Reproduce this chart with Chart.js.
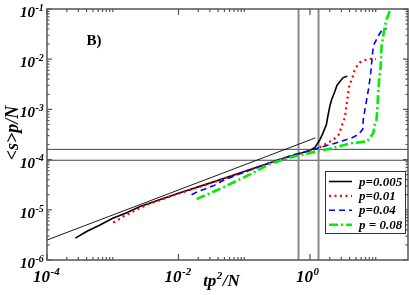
<!DOCTYPE html>
<html lang="en">
<head>
<meta charset="UTF-8">
<title>B) mean cluster size vs tp^2/N</title>
<script src="https://cdn.jsdelivr.net/npm/chart.js"></script>
<style>
  body { margin: 0; background: #fff; }
  canvas { display: block; }
</style>
</head>
<body>
<canvas id="myChart" width="409" height="295"></canvas>
<script>
// values
const blackX = [2.7e-4, 4.0e-4, 6.4e-4, 1.0e-3, 1.6e-3, 2.6e-3, 1.0e-2, 3.0e-2, 0.1, 0.35, 0.7, 1.0, 1.19, 1.42, 1.58, 1.78, 1.87, 2.01, 2.14, 2.4, 2.57, 2.86, 3.2, 3.7];
const blackY = [2.72e-6, 3.7e-6, 5.0e-6, 6.8e-6, 8.6e-6, 1.16e-5, 2.14e-5, 3.4e-5, 5.8e-5, 1.0e-4, 1.32e-4, 1.52e-4, 1.75e-4, 2.5e-4, 3.4e-4, 5.0e-4, 7.3e-4, 1.17e-3, 1.58e-3, 2.3e-3, 3.0e-3, 3.6e-3, 4.3e-3, 4.6e-3];

const redX = [1.02e-3, 1.25e-3, 1.5e-3, 1.9e-3, 2.3e-3, 3.5e-3, 1.0e-2, 3.0e-2, 0.1, 0.3, 0.6, 1.12, 1.42, 1.8, 2.27, 2.77, 3.03, 3.4, 3.53, 3.7, 3.85, 4.0, 4.4, 4.6, 5.2, 5.75, 6.9, 8.1, 10.1];
const redY = [5.6e-6, 6.5e-6, 7.6e-6, 8.8e-6, 1.0e-5, 1.3e-5, 2.1e-5, 3.35e-5, 5.7e-5, 9.4e-5, 1.25e-4, 1.58e-4, 1.77e-4, 2.1e-4, 2.5e-4, 3.2e-4, 4.6e-4, 6.9e-4, 1.0e-3, 1.56e-3, 2.3e-3, 3.2e-3, 4.0e-3, 5.4e-3, 7.3e-3, 8.6e-3, 9.6e-3, 1.02e-2, 1.0e-2];

const blueX = [1.58e-2, 2.0e-2, 2.53e-2, 3.4e-2, 4.5e-2, 7e-2, 0.1, 0.3, 0.6, 1.0, 1.42, 2.55, 4.3, 5.43, 6.34, 6.47, 6.87, 7.45, 7.9, 8.4, 8.7, 9.2, 10.9, 12.3, 14.7];
const blueY = [2.0e-5, 2.32e-5, 2.6e-5, 3.0e-5, 3.7e-5, 4.7e-5, 5.6e-5, 9.5e-5, 1.28e-4, 1.5e-4, 1.75e-4, 2.16e-4, 2.7e-4, 3.16e-4, 4.0e-4, 6.3e-4, 1.0e-3, 1.85e-3, 2.9e-3, 5.4e-3, 8.6e-3, 1.85e-2, 2.9e-2, 3.7e-2, 4.1e-2];

const greenX = [1.89e-2, 4.8e-2, 0.12, 0.25, 0.5, 1.0, 2.0, 4.06, 7.3, 8.2, 9.2, 9.75, 10.3, 10.6, 10.9, 11.3, 11.9, 12.3, 13.0, 13.8, 14.7, 16.1, 16.8];
const greenY = [1.64e-5, 2.8e-5, 5.0e-5, 8.3e-5, 1.1e-4, 1.36e-4, 1.64e-4, 2.1e-4, 2.3e-4, 2.7e-4, 3.4e-4, 5.4e-4, 6.3e-4, 1.0e-3, 2.16e-3, 4.0e-3, 7.3e-3, 1.85e-2, 2.9e-2, 4.6e-2, 6.3e-2, 8.6e-2, 0.1];

// thin power-law guide, vertical and horizontal marker lines
const refX = [1e-4, 1.2];
const refY = [2.5e-6, 2.7e-4];
const vLinesX = [0.67, 1.35];
const hLinesY = [1.6e-4, 0.97e-4];

const seriesLabels = ['p=0.005', 'p=0.01', 'p=0.04', 'p = 0.08'];
const xMajor = [1e-4, 1e-2, 1];
const xExp = ['-4', '-2', '0'];
const yMajor = [1e-6, 1e-5, 1e-4, 1e-3, 1e-2, 1e-1];
const yExp = ['-6', '-5', '-4', '-3', '-2', '-1'];

const X_MIN = 1e-4, X_MAX = 31, Y_MIN = 1e-6, Y_MAX = 1e-1;

function pts(xs, ys) {
    return xs.map((x, i) => ({ x: x, y: ys[i] }));
}

const datasets = [
    { label: seriesLabels[0], data: pts(blackX, blackY), borderColor: '#000', borderWidth: 1.6 },
    { label: seriesLabels[1], data: pts(redX, redY), borderColor: '#ff0000', borderWidth: 2.2, borderDash: [2, 3.5] },
    { label: seriesLabels[2], data: pts(blueX, blueY), borderColor: '#0000ff', borderWidth: 1.6, borderDash: [6, 4] },
    { label: seriesLabels[3], data: pts(greenX, greenY), borderColor: '#00ee00', borderWidth: 2.6, borderDash: [9, 3, 2, 3] },
    { label: 'ref', data: pts(refX, refY), borderColor: '#000', borderWidth: 0.9 }
];
vLinesX.forEach(v => datasets.push({ label: 'v', data: [{ x: v, y: Y_MIN }, { x: v, y: Y_MAX }], borderColor: '#8a8a8a', borderWidth: 2 }));
hLinesY.forEach(h => datasets.push({ label: 'h', data: [{ x: X_MIN, y: h }, { x: X_MAX, y: h }], borderColor: '#444', borderWidth: 1 }));
datasets.forEach((d, i) => {
    d.showLine = true;
    d.pointRadius = 0;
    d.fill = false;
    d.tension = 0;
    d.order = i < 4 ? 4 - i : 10;
});

function supText(ctx, base, exp, x, y, size, align) {
    // draws base with a raised exponent; align 'right' puts base's right edge at x
    ctx.font = 'bold italic ' + size + 'px "Liberation Serif"';
    const wb = ctx.measureText(base).width;
    const bx = align === 'right' ? x - wb : x;
    ctx.textAlign = 'left';
    ctx.fillText(base, bx, y);
    ctx.font = 'bold italic ' + Math.round(size * 0.66) + 'px "Liberation Serif"';
    ctx.fillText(exp, bx + wb + 0.5, y - size * 0.42);
}

const decor = {
    id: 'decor',
    afterDraw(chart) {
        const ctx = chart.ctx;
        const xs = chart.scales.x, ys = chart.scales.y;
        const a = chart.chartArea;
        ctx.save();
        ctx.fillStyle = '#000';
        ctx.textBaseline = 'alphabetic';

        // frame
        ctx.strokeStyle = '#555';
        ctx.lineWidth = 1.5;
        ctx.strokeRect(a.left, a.top, a.right - a.left, a.bottom - a.top);

        // x ticks (bottom and top, pointing inward)
        ctx.lineWidth = 1.2;
        ctx.beginPath();
        xMajor.forEach(m => {
            const px = xs.getPixelForValue(m);
            ctx.moveTo(px, a.bottom); ctx.lineTo(px, a.bottom - 6);
            ctx.moveTo(px, a.top); ctx.lineTo(px, a.top + 6);
            for (let k = 2; k <= 10; k++) {
                const v = m * k;
                if (v > X_MAX) break;
                const q = xs.getPixelForValue(v);
                ctx.moveTo(q, a.bottom); ctx.lineTo(q, a.bottom - 3);
                ctx.moveTo(q, a.top); ctx.lineTo(q, a.top + 3);
            }
        });
        // y ticks (left and right)
        yMajor.forEach(m => {
            const py = ys.getPixelForValue(m);
            ctx.moveTo(a.left, py); ctx.lineTo(a.left + 5, py);
            ctx.moveTo(a.right, py); ctx.lineTo(a.right - 5, py);
            for (let k = 2; k <= 9; k++) {
                const v = m * k;
                if (v > Y_MAX) break;
                const q = ys.getPixelForValue(v);
                ctx.moveTo(a.left, q); ctx.lineTo(a.left + 2.5, q);
                ctx.moveTo(a.right, q); ctx.lineTo(a.right - 2.5, q);
            }
        });
        ctx.stroke();

        // tick labels
        xMajor.forEach((m, i) => {
            const px = xs.getPixelForValue(m);
            supText(ctx, '10', xExp[i], px + 3, a.bottom + 22, 17, 'right');
        });
        yMajor.forEach((m, i) => {
            const py = ys.getPixelForValue(m);
            supText(ctx, '10', yExp[i], 35, py + 8, 15, 'right');
        });

        // axis titles
        ctx.font = 'bold italic 17px "Liberation Serif"';
        const w1 = ctx.measureText('tp').width;
        ctx.font = 'bold italic 11px "Liberation Serif"';
        const w2 = ctx.measureText('2').width;
        ctx.font = 'bold italic 17px "Liberation Serif"';
        const w3 = ctx.measureText('/N').width;
        let tx = 221 - (w1 + w2 + w3) / 2;
        ctx.fillText('tp', tx, 286);
        ctx.font = 'bold italic 11px "Liberation Serif"';
        ctx.fillText('2', tx + w1 + 0.5, 279);
        ctx.font = 'bold italic 17px "Liberation Serif"';
        ctx.fillText('/N', tx + w1 + w2 + 1, 286);

        ctx.save();
        ctx.translate(18, 133);
        ctx.rotate(-Math.PI / 2);
        ctx.textAlign = 'center';
        ctx.font = 'bold italic 18px "Liberation Serif"';
        ctx.fillText('<s>p/N', 0, 0);
        ctx.restore();

        // panel tag
        ctx.font = 'bold 15px "Liberation Serif"';
        ctx.textAlign = 'center';
        ctx.fillText('B)', 94, 45);

        // legend box
        const lx = 325, ly = 171, lw = 80, lh = 62;
        ctx.fillStyle = '#fff';
        ctx.fillRect(lx, ly, lw, lh);
        ctx.strokeStyle = '#333';
        ctx.lineWidth = 1;
        ctx.strokeRect(lx + 0.5, ly + 0.5, lw, lh);
        for (let i = 0; i < 4; i++) {
            const d = chart.data.datasets[i];
            const ry = 181.5 + i * 14.4;
            ctx.beginPath();
            ctx.strokeStyle = d.borderColor;
            ctx.lineWidth = d.borderWidth;
            ctx.setLineDash(d.borderDash || []);
            ctx.moveTo(329, ry); ctx.lineTo(352, ry);
            ctx.stroke();
            ctx.setLineDash([]);
            ctx.fillStyle = '#000';
            ctx.textAlign = 'left';
            ctx.font = 'bold italic 13px "Liberation Serif"';
            ctx.fillText(seriesLabels[i], 359, ry + 4);
        }
        ctx.restore();
    }
};

new Chart(document.getElementById('myChart'), {
    type: 'scatter',
    data: { datasets: datasets },
    options: {
        responsive: false,
        animation: false,
        events: [],
        layout: { padding: { left: 47, right: 1, top: 9, bottom: 35 } },
        plugins: { legend: { display: false }, tooltip: { enabled: false } },
        scales: {
            x: { type: 'logarithmic', min: X_MIN, max: X_MAX, display: false },
            y: { type: 'logarithmic', min: Y_MIN, max: Y_MAX, display: false }
        }
    },
    plugins: [decor]
});
</script>
</body>
</html>
